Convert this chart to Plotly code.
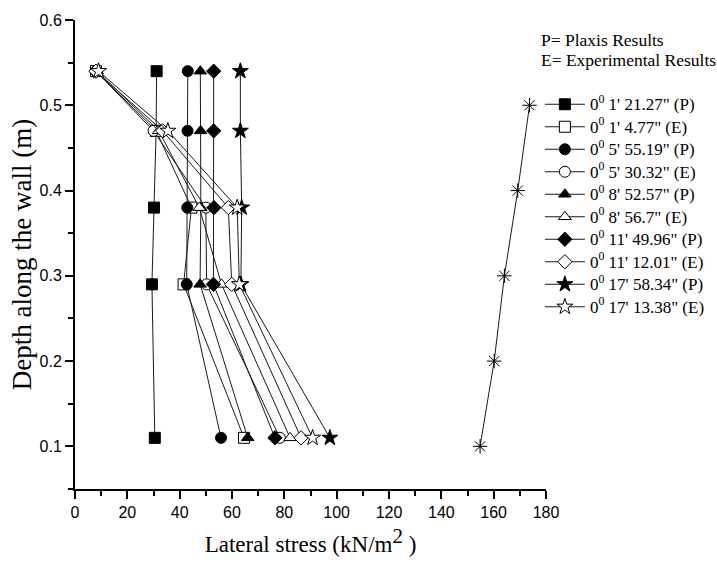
import plotly.graph_objects as go

depth = [0.54, 0.47, 0.38, 0.29, 0.11]

labels = [
    "0<sup>0</sup> 1' 21.27\" (P)",
    "0<sup>0</sup> 1' 4.77\" (E)",
    "0<sup>0</sup> 5' 55.19\" (P)",
    "0<sup>0</sup> 5' 30.32\" (E)",
    "0<sup>0</sup> 8' 52.57\" (P)",
    "0<sup>0</sup> 8' 56.7\" (E)",
    "0<sup>0</sup> 11' 49.96\" (P)",
    "0<sup>0</sup> 11' 12.01\" (E)",
    "0<sup>0</sup> 17' 58.34\" (P)",
    "0<sup>0</sup> 17' 13.38\" (E)",
]

sq_p = [31.2, 31.0, 30.2, 29.4, 30.5]
sq_e = [8.0, 31.0, 44.5, 41.5, 64.6]
ci_p = [43.1, 43.0, 42.9, 42.7, 55.8]
ci_e = [8.0, 30.0, 50.0, 50.3, 78.3]
tr_p = [47.9, 48.0, 48.1, 47.8, 66.0]
tr_e = [8.5, 32.0, 47.5, 56.0, 82.2]
di_p = [53.0, 53.0, 53.1, 52.9, 76.4]
di_e = [8.0, 33.5, 58.6, 59.9, 86.4]
st_p = [63.2, 63.2, 63.7, 63.4, 97.4]
st_e = [9.0, 35.5, 62.0, 62.8, 90.8]

series = [sq_p, sq_e, ci_p, ci_e, tr_p, tr_e, di_p, di_e, st_p, st_e]
symbols = ["square", "square", "circle", "circle", "triangle-up", "triangle-up",
           "diamond", "diamond", "star", "star"]
filled = [True, False] * 5

ast_depth = [0.5, 0.4, 0.3, 0.2, 0.1]
ast_x = [173.7, 169.2, 164.1, 160.2, 154.8]

header_lines = ["P= Plaxis Results", "E= Experimental Results"]

SERIF = "Liberation Serif"

fig = go.Figure()
for lab, xs, sym, fl in zip(labels, series, symbols, filled):
    fig.add_trace(go.Scatter(
        x=xs, y=depth, mode="lines+markers",
        name='<span style="font-size:17px">' + lab + "</span>",
        line=dict(color="#1a1a1a", width=1),
        marker=dict(symbol=sym, size=11 if sym != "star" else 12,
                    color="black" if fl else "white",
                    line=dict(color="black", width=1)),
    ))

fig.add_trace(go.Scatter(
    x=ast_x, y=ast_depth, mode="lines+markers", showlegend=False,
    line=dict(color="#1a1a1a", width=1),
    marker=dict(symbol="asterisk-open", size=12, color="black",
                line=dict(color="black", width=1)),
))

for i, txt in enumerate(header_lines):
    fig.add_annotation(
        text=txt, xref="paper", yref="paper", x=1.0, y=1.0,
        xanchor="left", yanchor="middle",
        xshift=-7, yshift=-(20 + 20 * i),
        showarrow=False, align="left",
        font=dict(family=SERIF, size=17.5, color="black"),
    )

axis_common = dict(
    showline=True, linecolor="black", linewidth=2, ticks="outside",
    ticklen=8, tickwidth=2, tickcolor="black", showgrid=False, zeroline=False,
    mirror=False,
    tickfont=dict(family="Liberation Sans", size=16, color="black"),
)

fig.update_layout(
    width=717, height=564,
    margin=dict(l=75, r=171, t=20, b=75, autoexpand=False),
    paper_bgcolor="white", plot_bgcolor="white",
    xaxis=dict(range=[0, 180], dtick=20, tick0=0,
               minor=dict(dtick=10, ticks="outside", ticklen=5, tickwidth=2, tickcolor="black"),
               title=dict(text='Lateral stress (kN/m<sup><span style="font-size:21px">2</span></sup> )',
                          standoff=16,
                          font=dict(family=SERIF, size=23, color="black")),
               **axis_common),
    yaxis=dict(range=[0.05, 0.6], dtick=0.1, tick0=0.1, tickformat=".1f",
               minor=dict(dtick=0.05, ticks="outside", ticklen=5, tickwidth=2, tickcolor="black"),
               title=dict(text="Depth along the wall (m)", standoff=0,
                          font=dict(family=SERIF, size=27, color="black")),
               **axis_common),
    legend=dict(x=0.987, y=0.855, xanchor="left", yanchor="top",
                xref="paper", yref="paper",
                font=dict(family=SERIF, size=15, color="black"),
                bgcolor="rgba(0,0,0,0)", tracegroupgap=0, itemwidth=40),
    showlegend=True,
)

fig.write_html("out.html")
